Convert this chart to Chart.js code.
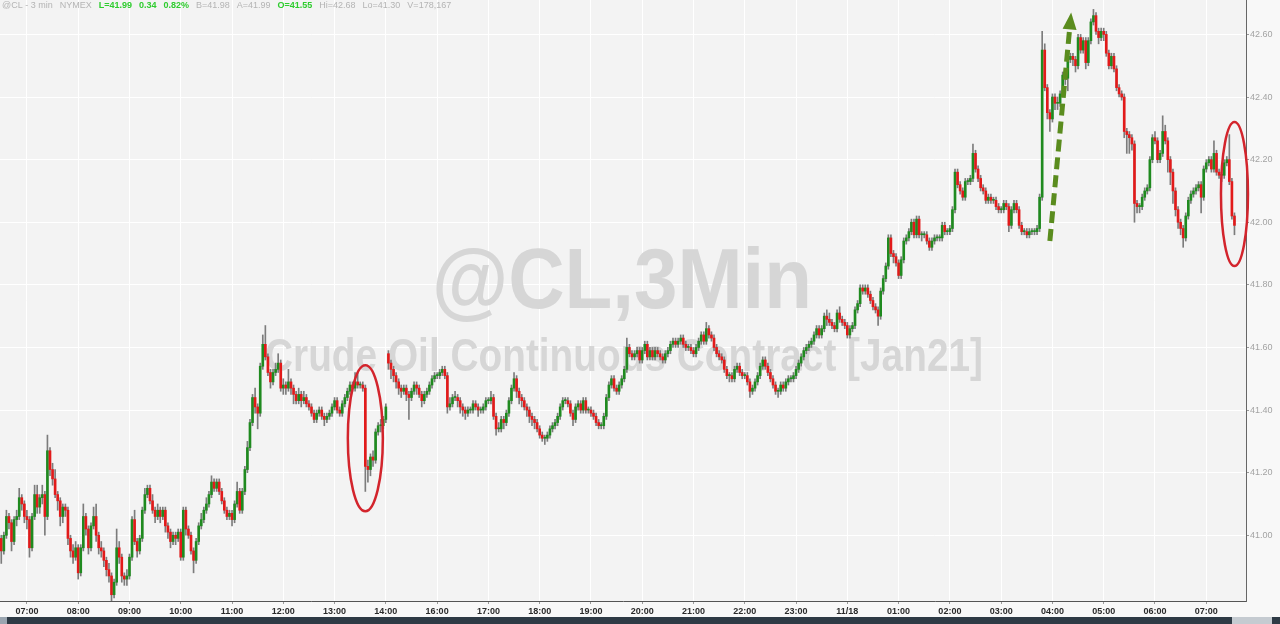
<!DOCTYPE html>
<html>
<head>
<meta charset="utf-8">
<script src="https://cdn.jsdelivr.net/npm/chart.js@4.4.0/dist/chart.umd.min.js"></script>
<style>
  html, body { margin: 0; padding: 0; background: #f8f8f8; }
  #wrap { position: relative; width: 1280px; height: 624px; }
</style>
</head>
<body>
<div id="wrap"><canvas id="chart"></canvas></div>
<script>
// @CL 3-min bars (one value per bar)
const opens = [
  40.99,40.95,41.00,41.06,41.04,40.98,41.05,41.06,41.12,41.10,
  41.06,41.05,40.96,41.06,41.13,41.09,41.12,41.13,41.06,41.27,
  41.21,41.18,41.13,41.11,41.06,41.09,41.08,40.99,40.95,40.93,
  40.96,40.88,40.96,41.06,41.02,40.96,41.03,41.06,41.00,40.96,
  40.95,40.92,40.89,40.87,40.81,40.85,40.96,40.93,40.87,40.86,
  40.87,40.93,41.05,40.98,40.95,40.99,41.08,41.13,41.15,41.11,
  41.08,41.06,41.08,41.06,41.08,41.03,41.01,40.98,41.00,40.99,
  41.01,40.93,41.08,41.02,41.00,40.95,40.92,40.98,41.03,41.05,
  41.08,41.10,41.13,41.17,41.15,41.17,41.14,41.11,41.08,41.06,
  41.07,41.05,41.10,41.14,41.08,41.14,41.21,41.28,41.36,41.44,
  41.41,41.39,41.54,41.61,41.57,41.52,41.49,41.52,41.53,41.55,
  41.47,41.48,41.47,41.49,41.47,41.45,41.43,41.45,41.43,41.44,
  41.42,41.41,41.39,41.37,41.39,41.40,41.38,41.37,41.38,41.39,
  41.41,41.43,41.40,41.39,41.42,41.44,41.46,41.48,41.47,41.49,
  41.48,41.48,41.47,41.22,41.21,41.25,41.24,41.33,41.35,41.35,
  41.37,41.58,41.55,41.53,41.51,41.49,41.47,41.46,41.47,41.45,
  41.44,41.46,41.48,41.47,41.45,41.43,41.45,41.46,41.48,41.50,
  41.51,41.51,41.52,41.53,41.51,41.41,41.42,41.44,41.44,41.43,
  41.41,41.40,41.39,41.40,41.40,41.42,41.41,41.40,41.40,41.41,
  41.43,41.43,41.44,41.38,41.34,41.34,41.37,41.36,41.39,41.43,
  41.47,41.50,41.46,41.44,41.43,41.41,41.40,41.38,41.37,41.36,
  41.34,41.32,41.31,41.31,41.32,41.34,41.35,41.36,41.38,41.41,
  41.43,41.43,41.42,41.39,41.37,41.41,41.42,41.40,41.43,41.40,
  41.40,41.39,41.38,41.36,41.35,41.35,41.38,41.44,41.48,41.50,
  41.47,41.46,41.48,41.50,41.53,41.60,41.58,41.57,41.58,41.59,
  41.56,41.59,41.61,41.57,41.59,41.57,41.59,41.58,41.57,41.56,
  41.58,41.59,41.61,41.62,41.61,41.62,41.63,41.61,41.60,41.60,
  41.59,41.58,41.60,41.62,41.64,41.62,41.66,41.64,41.63,41.60,
  41.58,41.57,41.56,41.53,41.51,41.51,41.50,41.53,41.54,41.52,
  41.51,41.51,41.49,41.46,41.47,41.49,41.51,41.54,41.56,41.54,
  41.52,41.50,41.48,41.46,41.46,41.48,41.47,41.49,41.50,41.50,
  41.51,41.53,41.55,41.57,41.59,41.60,41.61,41.62,41.64,41.66,
  41.64,41.66,41.70,41.69,41.68,41.67,41.66,41.71,41.69,41.68,
  41.67,41.64,41.66,41.67,41.72,41.74,41.79,41.78,41.79,41.77,
  41.75,41.73,41.72,41.70,41.78,41.82,41.86,41.95,41.90,41.89,
  41.87,41.83,41.88,41.94,41.95,41.97,42.00,41.96,42.01,41.96,
  41.96,41.96,41.94,41.92,41.94,41.95,41.95,41.95,41.99,41.97,
  41.97,41.98,42.04,42.16,42.12,42.10,42.08,42.13,42.13,42.14,
  42.22,42.17,42.14,42.11,42.10,42.07,42.08,42.07,42.07,42.05,
  42.04,42.04,42.06,42.05,41.99,42.04,42.06,42.04,41.99,41.97,
  41.97,41.96,41.97,41.97,41.97,41.98,42.08,42.55,42.43,42.35,
  42.33,42.40,42.38,42.38,42.41,42.47,42.46,42.52,42.53,42.52,
  42.50,42.59,42.55,42.58,42.51,42.58,42.64,42.66,42.61,42.59,
  42.61,42.60,42.54,42.50,42.53,42.49,42.43,42.41,42.40,42.29,
  42.28,42.27,42.25,42.06,42.05,42.05,42.08,42.10,42.11,42.20,
  42.27,42.26,42.20,42.22,42.29,42.26,42.20,42.16,42.10,42.04,
  42.00,41.98,41.95,42.02,42.07,42.09,42.10,42.11,42.12,42.08,
  42.17,42.19,42.20,42.17,42.22,42.16,42.15,42.15,42.19,42.20,
  42.13,42.02
];
const highs = [
  41.00,41.01,41.08,41.07,41.05,41.06,41.08,41.15,41.13,41.11,
  41.08,41.06,41.07,41.16,41.16,41.13,41.16,41.14,41.32,41.28,
  41.23,41.21,41.14,41.12,41.10,41.10,41.09,41.00,40.97,40.98,
  40.97,40.97,41.10,41.07,41.03,41.04,41.09,41.10,41.01,40.98,
  40.96,40.93,40.91,40.88,40.86,41.02,40.98,40.94,40.88,40.89,
  40.94,41.06,41.08,40.99,41.00,41.09,41.15,41.16,41.16,41.13,
  41.09,41.10,41.09,41.09,41.09,41.04,41.02,41.01,41.01,41.02,
  41.02,41.09,41.09,41.03,41.01,40.96,40.99,41.04,41.07,41.09,
  41.12,41.14,41.19,41.18,41.18,41.18,41.15,41.12,41.09,41.08,
  41.08,41.11,41.17,41.15,41.15,41.22,41.30,41.37,41.45,41.47,
  41.42,41.55,41.64,41.67,41.58,41.53,41.53,41.55,41.58,41.56,
  41.50,41.49,41.53,41.50,41.48,41.46,41.47,41.46,41.46,41.45,
  41.43,41.42,41.40,41.40,41.41,41.41,41.39,41.39,41.40,41.42,
  41.44,41.44,41.41,41.43,41.45,41.47,41.49,41.49,41.52,41.52,
  41.49,41.49,41.48,41.24,41.26,41.27,41.34,41.36,41.37,41.38,
  41.42,41.59,41.56,41.54,41.52,41.50,41.48,41.48,41.48,41.46,
  41.47,41.49,41.49,41.48,41.46,41.46,41.47,41.49,41.51,41.52,
  41.52,41.53,41.54,41.54,41.52,41.44,41.45,41.46,41.45,41.44,
  41.42,41.41,41.41,41.41,41.43,41.43,41.42,41.41,41.42,41.44,
  41.44,41.46,41.45,41.39,41.36,41.38,41.38,41.40,41.44,41.48,
  41.52,41.51,41.47,41.45,41.44,41.42,41.41,41.39,41.38,41.37,
  41.35,41.33,41.32,41.33,41.35,41.36,41.37,41.39,41.42,41.44,
  41.44,41.44,41.43,41.40,41.42,41.43,41.43,41.44,41.44,41.41,
  41.41,41.40,41.39,41.37,41.36,41.39,41.45,41.49,41.51,41.51,
  41.48,41.49,41.51,41.54,41.63,41.61,41.59,41.59,41.60,41.60,
  41.60,41.62,41.62,41.60,41.60,41.60,41.60,41.59,41.58,41.59,
  41.60,41.62,41.63,41.63,41.63,41.64,41.64,41.62,41.61,41.61,
  41.60,41.61,41.63,41.65,41.65,41.68,41.67,41.65,41.64,41.61,
  41.59,41.58,41.57,41.54,41.52,41.52,41.54,41.55,41.55,41.53,
  41.52,41.52,41.50,41.48,41.50,41.52,41.55,41.57,41.57,41.55,
  41.53,41.51,41.49,41.47,41.49,41.49,41.50,41.51,41.51,41.52,
  41.54,41.56,41.58,41.60,41.61,41.62,41.63,41.65,41.67,41.67,
  41.67,41.71,41.72,41.71,41.69,41.68,41.72,41.73,41.70,41.69,
  41.68,41.67,41.68,41.73,41.75,41.80,41.80,41.80,41.80,41.78,
  41.76,41.74,41.73,41.79,41.83,41.87,41.96,41.96,41.91,41.90,
  41.88,41.89,41.95,41.96,41.98,42.01,42.01,42.02,42.02,41.97,
  41.97,41.97,41.95,41.95,41.96,41.96,41.96,42.00,42.00,41.98,
  41.99,42.05,42.17,42.17,42.13,42.11,42.14,42.14,42.15,42.25,
  42.23,42.18,42.15,42.12,42.11,42.09,42.09,42.08,42.08,42.06,
  42.05,42.07,42.07,42.06,42.05,42.07,42.07,42.05,42.00,41.98,
  41.98,41.98,41.98,41.98,41.99,42.09,42.61,42.57,42.44,42.36,
  42.41,42.41,42.40,42.42,42.48,42.48,42.53,42.54,42.54,42.53,
  42.60,42.60,42.59,42.59,42.59,42.65,42.68,42.67,42.62,42.62,
  42.62,42.61,42.55,42.54,42.54,42.50,42.44,42.42,42.41,42.30,
  42.29,42.28,42.26,42.07,42.06,42.09,42.11,42.12,42.21,42.28,
  42.29,42.27,42.23,42.34,42.31,42.27,42.21,42.17,42.11,42.05,
  42.01,41.99,42.03,42.08,42.10,42.11,42.12,42.13,42.13,42.18,
  42.20,42.21,42.21,42.26,42.23,42.17,42.16,42.20,42.21,42.28,
  42.14,42.03
];
const lows = [
  40.91,40.94,40.99,41.02,40.95,40.97,41.03,41.05,41.08,41.04,
  41.02,40.93,40.95,41.05,41.07,41.07,41.10,41.00,41.05,41.19,
  41.16,41.12,41.08,41.03,41.04,41.06,40.97,40.93,40.91,40.92,
  40.86,40.87,40.95,41.00,40.94,40.95,41.02,40.98,40.94,40.93,
  40.90,40.87,40.85,40.79,40.80,40.84,40.91,40.85,40.84,40.84,
  40.86,40.92,40.97,40.93,40.94,40.98,41.07,41.12,41.10,41.07,
  41.04,41.05,41.04,41.05,41.01,40.99,40.96,40.97,40.97,40.98,
  40.92,40.92,41.00,40.99,40.94,40.88,40.91,40.97,41.02,41.04,
  41.07,41.09,41.12,41.14,41.14,41.13,41.10,41.07,41.05,41.05,
  41.03,41.04,41.09,41.07,41.07,41.13,41.20,41.27,41.35,41.39,
  41.34,41.38,41.53,41.56,41.51,41.47,41.48,41.51,41.52,41.46,
  41.45,41.45,41.46,41.45,41.42,41.42,41.42,41.41,41.42,41.41,
  41.40,41.38,41.36,41.36,41.38,41.37,41.35,41.36,41.37,41.38,
  41.40,41.39,41.38,41.38,41.41,41.43,41.45,41.46,41.46,41.47,
  41.47,41.46,41.14,41.17,41.19,41.22,41.23,41.32,41.33,41.34,
  41.36,41.53,41.50,41.49,41.47,41.45,41.44,41.45,41.43,41.37,
  41.43,41.45,41.45,41.44,41.41,41.42,41.44,41.45,41.47,41.49,
  41.50,41.50,41.51,41.50,41.39,41.40,41.41,41.43,41.41,41.39,
  41.38,41.37,41.38,41.39,41.39,41.40,41.38,41.39,41.39,41.40,
  41.42,41.42,41.37,41.32,41.33,41.33,41.34,41.35,41.38,41.42,
  41.46,41.44,41.42,41.41,41.40,41.38,41.36,41.35,41.34,41.33,
  41.31,41.30,41.29,41.30,41.31,41.33,41.34,41.35,41.37,41.40,
  41.42,41.41,41.38,41.35,41.36,41.40,41.39,41.39,41.39,41.39,
  41.38,41.37,41.35,41.34,41.34,41.34,41.37,41.43,41.47,41.46,
  41.45,41.45,41.47,41.49,41.52,41.57,41.56,41.56,41.57,41.55,
  41.55,41.58,41.56,41.56,41.56,41.56,41.57,41.56,41.55,41.55,
  41.57,41.58,41.60,41.60,41.60,41.61,41.60,41.59,41.59,41.58,
  41.57,41.57,41.59,41.61,41.61,41.61,41.63,41.62,41.59,41.57,
  41.56,41.55,41.52,41.50,41.49,41.49,41.49,41.52,41.51,41.50,
  41.50,41.48,41.44,41.45,41.46,41.48,41.50,41.53,41.53,41.51,
  41.49,41.47,41.45,41.44,41.45,41.46,41.46,41.48,41.49,41.49,
  41.50,41.52,41.54,41.56,41.58,41.59,41.60,41.61,41.63,41.63,
  41.63,41.65,41.67,41.67,41.66,41.65,41.65,41.68,41.67,41.66,
  41.63,41.63,41.65,41.66,41.71,41.73,41.77,41.77,41.76,41.74,
  41.72,41.71,41.67,41.69,41.77,41.81,41.85,41.89,41.87,41.86,
  41.82,41.82,41.87,41.93,41.94,41.96,41.95,41.95,41.95,41.94,
  41.95,41.93,41.91,41.91,41.93,41.94,41.94,41.94,41.96,41.96,
  41.96,41.97,42.03,42.11,42.09,42.07,42.07,42.12,42.12,42.13,
  42.16,42.13,42.10,42.09,42.06,42.06,42.06,42.06,42.04,42.03,
  42.03,42.03,42.04,41.97,41.98,42.03,42.03,41.98,41.96,41.96,
  41.95,41.95,41.96,41.96,41.96,41.97,42.07,42.42,42.33,42.29,
  42.32,42.36,42.36,42.37,42.40,42.44,42.42,42.51,42.50,42.48,
  42.49,42.54,42.54,42.49,42.50,42.57,42.63,42.60,42.57,42.58,
  42.58,42.53,42.49,42.49,42.48,42.42,42.40,42.39,42.27,42.22,
  42.22,42.23,42.00,42.03,42.03,42.04,42.07,42.09,42.10,42.19,
  42.25,42.19,42.19,42.21,42.25,42.16,42.12,42.06,42.02,41.98,
  41.96,41.92,41.94,42.01,42.06,42.08,42.09,42.10,42.03,42.07,
  42.16,42.18,42.16,42.16,42.15,42.14,42.13,42.14,42.18,42.12,
  42.01,41.96
];
const closes = [
  40.95,41.00,41.06,41.04,40.98,41.05,41.06,41.12,41.10,41.06,
  41.05,40.96,41.06,41.13,41.09,41.12,41.13,41.06,41.27,41.21,
  41.18,41.13,41.11,41.06,41.09,41.08,40.99,40.95,40.93,40.96,
  40.88,40.96,41.06,41.02,40.96,41.03,41.06,41.00,40.96,40.95,
  40.92,40.89,40.87,40.81,40.85,40.96,40.93,40.87,40.86,40.87,
  40.93,41.05,40.98,40.95,40.99,41.08,41.13,41.15,41.11,41.08,
  41.06,41.08,41.06,41.08,41.03,41.01,40.98,41.00,40.99,41.01,
  40.93,41.08,41.02,41.00,40.95,40.92,40.98,41.03,41.05,41.08,
  41.10,41.13,41.17,41.15,41.17,41.14,41.11,41.08,41.06,41.07,
  41.05,41.10,41.14,41.08,41.14,41.21,41.28,41.36,41.44,41.41,
  41.39,41.54,41.61,41.57,41.52,41.49,41.52,41.53,41.55,41.47,
  41.48,41.47,41.49,41.47,41.45,41.43,41.45,41.43,41.44,41.42,
  41.41,41.39,41.37,41.39,41.40,41.38,41.37,41.38,41.39,41.41,
  41.43,41.40,41.39,41.42,41.44,41.46,41.48,41.47,41.49,41.48,
  41.48,41.47,41.22,41.21,41.25,41.24,41.33,41.35,41.35,41.37,
  41.41,41.55,41.53,41.51,41.49,41.47,41.46,41.47,41.45,41.44,
  41.46,41.48,41.47,41.45,41.43,41.45,41.46,41.48,41.50,41.51,
  41.51,41.52,41.53,41.51,41.41,41.42,41.44,41.44,41.43,41.41,
  41.40,41.39,41.40,41.40,41.42,41.41,41.40,41.40,41.41,41.43,
  41.43,41.44,41.38,41.34,41.34,41.37,41.36,41.39,41.43,41.47,
  41.50,41.46,41.44,41.43,41.41,41.40,41.38,41.37,41.36,41.34,
  41.32,41.31,41.31,41.32,41.34,41.35,41.36,41.38,41.41,41.43,
  41.43,41.42,41.39,41.37,41.41,41.42,41.40,41.43,41.40,41.40,
  41.39,41.38,41.36,41.35,41.35,41.38,41.44,41.48,41.50,41.47,
  41.46,41.48,41.50,41.53,41.60,41.58,41.57,41.58,41.59,41.56,
  41.59,41.61,41.57,41.59,41.57,41.59,41.58,41.57,41.56,41.58,
  41.59,41.61,41.62,41.61,41.62,41.63,41.61,41.60,41.60,41.59,
  41.58,41.60,41.62,41.64,41.62,41.66,41.64,41.63,41.60,41.58,
  41.57,41.56,41.53,41.51,41.51,41.50,41.53,41.54,41.52,41.51,
  41.51,41.49,41.46,41.47,41.49,41.51,41.54,41.56,41.54,41.52,
  41.50,41.48,41.46,41.46,41.48,41.47,41.49,41.50,41.50,41.51,
  41.53,41.55,41.57,41.59,41.60,41.61,41.62,41.64,41.66,41.64,
  41.66,41.70,41.69,41.68,41.67,41.66,41.71,41.69,41.68,41.67,
  41.64,41.66,41.67,41.72,41.74,41.79,41.78,41.79,41.77,41.75,
  41.73,41.72,41.70,41.78,41.82,41.86,41.95,41.90,41.89,41.87,
  41.83,41.88,41.94,41.95,41.97,42.00,41.96,42.01,41.96,41.96,
  41.96,41.94,41.92,41.94,41.95,41.95,41.95,41.99,41.97,41.97,
  41.98,42.04,42.16,42.12,42.10,42.08,42.13,42.13,42.14,42.22,
  42.17,42.14,42.11,42.10,42.07,42.08,42.07,42.07,42.05,42.04,
  42.04,42.06,42.05,41.99,42.04,42.06,42.04,41.99,41.97,41.97,
  41.96,41.97,41.97,41.97,41.98,42.08,42.55,42.43,42.35,42.33,
  42.40,42.38,42.38,42.41,42.47,42.46,42.52,42.53,42.52,42.50,
  42.59,42.55,42.58,42.51,42.58,42.64,42.66,42.61,42.59,42.61,
  42.60,42.54,42.50,42.53,42.49,42.43,42.41,42.40,42.29,42.28,
  42.27,42.25,42.06,42.05,42.05,42.08,42.10,42.11,42.20,42.27,
  42.26,42.20,42.22,42.29,42.26,42.20,42.16,42.10,42.04,42.00,
  41.98,41.95,42.02,42.07,42.09,42.10,42.11,42.12,42.08,42.17,
  42.19,42.20,42.17,42.22,42.16,42.15,42.15,42.19,42.20,42.13,
  42.02,41.99
];

// trading sessions (there is a break after the 14:00 bar)
const sessions = [ { from: '06:30', bars: 151 }, { from: '15:03', bars: 335 } ];
const tickTimes = ['07:00','08:00','09:00','10:00','11:00','12:00','13:00','14:00',
  '16:00','17:00','18:00','19:00','20:00','21:00','22:00','23:00',
  '00:00','01:00','02:00','03:00','04:00','05:00','06:00','07:00'];
const tickText = ['07:00','08:00','09:00','10:00','11:00','12:00','13:00','14:00',
  '16:00','17:00','18:00','19:00','20:00','21:00','22:00','23:00',
  '11/18','01:00','02:00','03:00','04:00','05:00','06:00','07:00'];
const yTicks = [41.00, 41.20, 41.40, 41.60, 41.80, 42.00, 42.20, 42.40, 42.60];

const header = [
  { t: '@CL - 3 min', c: '#b4b4b4', b: false },
  { t: 'NYMEX', c: '#b4b4b4', b: false },
  { t: 'L=41.99', c: '#2ecc2e', b: true },
  { t: '0.34', c: '#2ecc2e', b: true },
  { t: '0.82%', c: '#2ecc2e', b: true },
  { t: 'B=41.98', c: '#b4b4b4', b: false },
  { t: 'A=41.99', c: '#b4b4b4', b: false },
  { t: 'O=41.55', c: '#2ecc2e', b: true },
  { t: 'Hi=42.68', c: '#b4b4b4', b: false },
  { t: 'Lo=41.30', c: '#b4b4b4', b: false },
  { t: 'V=178,167', c: '#b4b4b4', b: false }
];

const UP = '#1f8a1f', DOWN = '#e21a1a';

function pad(n) { return (n < 10 ? '0' : '') + n; }
const times = [];
sessions.forEach(s => {
  let m = parseInt(s.from.slice(0, 2)) * 60 + parseInt(s.from.slice(3));
  for (let k = 0; k < s.bars; k++) {
    const mm = (m + k * 3) % 1440;
    times.push(pad(Math.floor(mm / 60)) + ':' + pad(mm % 60));
  }
});
const tickIdx = [];
let from = 0;
tickTimes.forEach(t => {
  const i = times.indexOf(t, from);
  tickIdx.push(i);
  from = i + 1;
});

function fittedText(ctx, text, cx, base, width, capH) {
  ctx.save();
  ctx.font = 'bold 100px "Liberation Sans", Arial, sans-serif';
  const w = ctx.measureText(text).width;
  ctx.translate(cx, base);
  ctx.scale(width / w, capH / 72);
  ctx.textAlign = 'center';
  ctx.textBaseline = 'alphabetic';
  ctx.fillText(text, 0, 0);
  ctx.restore();
}

const backdrop = {
  id: 'backdrop',
  beforeDraw(chart) {
    const { ctx, chartArea: a } = chart;
    ctx.save();
    ctx.fillStyle = '#f8f8f8';
    ctx.fillRect(0, 0, chart.width, chart.height);
    ctx.fillStyle = '#f3f3f3';
    ctx.fillRect(a.left, a.top, a.right - a.left, a.bottom - a.top);
    ctx.restore();
  },
  beforeDatasetsDraw(chart) {
    const { ctx } = chart;
    ctx.save();
    ctx.fillStyle = '#d6d6d6';
    fittedText(ctx, '@CL,3Min', 622, 308, 380, 61);
    fittedText(ctx, 'Crude Oil Continuous Contract [Jan21]', 624, 371, 718, 33);
    ctx.restore();
  }
};

const marks = {
  id: 'marks',
  afterDatasetsDraw(chart) {
    const { ctx, scales: { x, y } } = chart;
    ctx.save();
    // red rings round the two drops
    ctx.strokeStyle = '#d3242c';
    ctx.lineWidth = 2.5;
    [[142, 41.31, 17.5, 73], [481, 42.09, 13.5, 72]].forEach(([i, p, rx, ry]) => {
      ctx.beginPath();
      ctx.ellipse(x.getPixelForValue(i), y.getPixelForValue(p), rx, ry, 0, 0, Math.PI * 2);
      ctx.stroke();
    });
    // dashed green arrow up the spike
    const x0 = x.getPixelForValue(409), y0 = y.getPixelForValue(41.94);
    const x1 = x.getPixelForValue(417.3), y1 = y.getPixelForValue(42.67);
    const ang = Math.atan2(y1 - y0, x1 - x0);
    const bx = x1 - 17 * Math.cos(ang), by = y1 - 17 * Math.sin(ang);
    ctx.strokeStyle = '#5a8c1e';
    ctx.fillStyle = '#5a8c1e';
    ctx.lineWidth = 5;
    ctx.setLineDash([12, 6]);
    ctx.beginPath();
    ctx.moveTo(x0, y0);
    ctx.lineTo(bx, by);
    ctx.stroke();
    ctx.setLineDash([]);
    const nx = -Math.sin(ang), ny = Math.cos(ang);
    ctx.beginPath();
    ctx.moveTo(x1, y1);
    ctx.lineTo(bx + nx * 7, by + ny * 7);
    ctx.lineTo(bx - nx * 7, by - ny * 7);
    ctx.closePath();
    ctx.fill();
    ctx.restore();
  },
  afterDraw(chart) {
    const { ctx } = chart;
    ctx.save();
    // header line
    let hx = 2;
    ctx.textBaseline = 'middle';
    header.forEach(h => {
      ctx.font = (h.b ? 'bold ' : '') + '9px "Liberation Sans", Arial, sans-serif';
      ctx.fillStyle = h.c;
      ctx.fillText(h.t, hx, 6);
      hx += ctx.measureText(h.t).width + 7;
    });
    // scroll bar strip at the bottom
    ctx.fillStyle = '#2e3a45';
    ctx.fillRect(0, 617, chart.width, 7);
    ctx.fillStyle = '#9aa5b0';
    ctx.fillRect(0, 617, 7, 7);
    ctx.fillStyle = '#c5cbd1';
    ctx.fillRect(1232, 617, 40, 7);
    ctx.restore();
  }
};

new Chart(document.getElementById('chart'), {
  type: 'bar',
  data: {
    labels: times,
    datasets: [
      {
        label: 'body',
        data: opens.map((o, i) => [o, closes[i]]),
        backgroundColor: opens.map((o, i) => closes[i] >= o ? UP : DOWN),
        barThickness: 2,
        minBarLength: 1,
        grouped: false,
        order: 0
      },
      {
        label: 'wick',
        data: lows.map((l, i) => [l, highs[i]]),
        backgroundColor: '#7c7c7c',
        barThickness: 1,
        grouped: false,
        order: 1
      }
    ]
  },
  options: {
    responsive: true,
    maintainAspectRatio: false,
    animation: false,
    layout: { padding: 0 },
    plugins: { legend: { display: false }, tooltip: { enabled: false } },
    scales: {
      x: {
        offset: true,
        afterBuildTicks: s => { s.ticks = tickIdx.map(v => ({ value: v })); },
        afterFit: s => { s.height = 23; s.paddingLeft = 0; s.paddingRight = 0; },
        grid: { offset: false, color: '#ffffff', lineWidth: 1, tickLength: 3, tickColor: '#9a9a9a' },
        border: { display: true, color: '#555555', width: 1 },
        ticks: {
          autoSkip: false, maxRotation: 0, padding: 2,
          color: '#2a2a2a',
          font: { family: '"Liberation Sans", Arial, sans-serif', size: 9, weight: 'bold' },
          callback: (v, k) => tickText[k]
        }
      },
      y: {
        position: 'right',
        min: 40.79,
        max: 42.71,
        afterBuildTicks: s => { s.ticks = yTicks.map(v => ({ value: v })); },
        afterFit: s => { s.width = 34; s.paddingTop = 0; s.paddingBottom = 0; },
        grid: { color: '#ffffff', lineWidth: 1, tickLength: 3, tickColor: '#9a9a9a' },
        border: { display: true, color: '#666666', width: 1 },
        ticks: {
          padding: 1,
          color: '#a3a3a3',
          font: { family: '"Liberation Sans", Arial, sans-serif', size: 9 },
          callback: v => Number(v).toFixed(2)
        }
      }
    }
  },
  plugins: [backdrop, marks]
});
</script>
</body>
</html>
